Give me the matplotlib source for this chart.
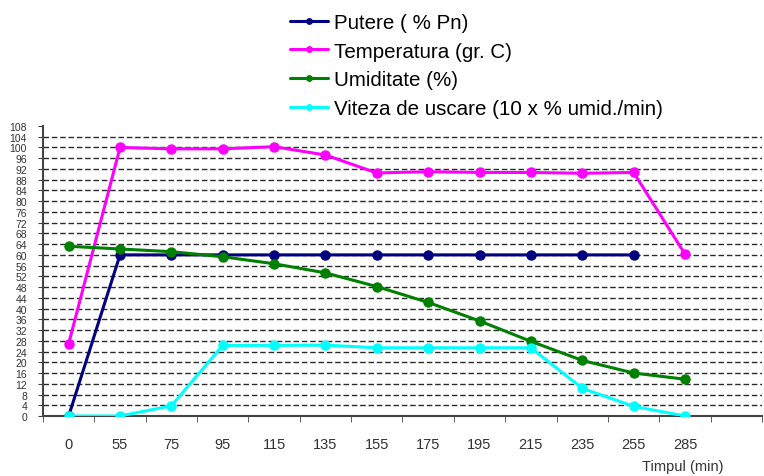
import numpy as np
import matplotlib.pyplot as plt

# Drying run: time steps (min) and measured series
timp = ["0", "55", "75", "95", "115", "135", "155", "175", "195", "215", "235", "255", "285"]
putere = [0, 60, 60, 60, 60, 60, 60, 60, 60, 60, 60, 60]
temperatura = [27, 100, 99.5, 99.5, 100.3, 97.2, 90.5, 91, 90.7, 90.7, 90.4, 90.7, 60.3]
umiditate = [63.2, 62.2, 61.2, 59.3, 56.7, 53.3, 48.2, 42.3, 35.4, 27.8, 20.7, 16, 13.7]
viteza = [0, 0, 3.8, 26.3, 26.3, 26.4, 25.4, 25.4, 25.4, 25.4, 10.3, 3.6, 0]

series = [
    ("Putere ( % Pn)", putere, "#000080"),
    ("Temperatura (gr. C)", temperatura, "#FF00FF"),
    ("Umiditate (%)", umiditate, "#008000"),
    ("Viteza de uscare (10 x % umid./min)", viteza, "#00FFFF"),
]

plt.rcParams["font.family"] = ["Liberation Sans", "DejaVu Sans"]

fig = plt.figure(figsize=(7.64, 4.77), dpi=100)
ax = fig.add_axes([43 / 764, 1 - 417 / 477, (762 - 43) / 764, (417 - 127) / 477])

x = np.arange(len(timp))
for label, vals, col in series:
    ax.plot(x[:len(vals)], vals, color=col, lw=2.2, marker="o", ms=6.5, label=label,
            solid_capstyle="round", zorder=3)

# dashed horizontal grid every 4 units
for yv in range(4, 108, 4):
    ax.axhline(yv, color="#2a2a2a", lw=1.0, dashes=(4, 2), zorder=1)

ax.set_xlim(-0.5, 13.33)
ax.set_ylim(0, 108)
ax.set_yticks(range(0, 109, 4))
ax.tick_params(axis="y", labelsize=7.5, length=3.5, pad=8, color="#444444", labelcolor="#333333")

ax.set_xticks(x)
ax.set_xticklabels(timp)
ax.set_xticks(np.arange(-0.5, 14, 1), minor=True)
ax.tick_params(axis="x", which="major", length=0, pad=15, labelsize=10.5, labelcolor="#333333")
ax.tick_params(axis="x", which="minor", length=4, color="#444444")

for s in ["top", "right"]:
    ax.spines[s].set_visible(False)
for s in ["left", "bottom"]:
    ax.spines[s].set_color("#444444")
    ax.spines[s].set_linewidth(1.5)

fig.text(683 / 764, 1 - 467 / 477, "Timpul (min)", ha="center", va="center",
         fontsize=10.5, color="#333333")

fig.legend(loc="upper left", bbox_to_anchor=(290 / 764, 1 - 14 / 477), frameon=False,
           fontsize=14.8, handlelength=1.85, handletextpad=0.28, labelspacing=0.47,
           markerscale=0.6, borderpad=0, borderaxespad=0)

fig.savefig("out.png", dpi=100)
